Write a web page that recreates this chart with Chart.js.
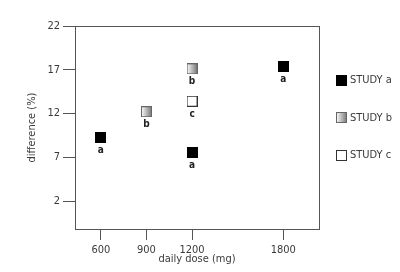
<!DOCTYPE html>
<html>
<head>
<meta charset="utf-8">
<script src="https://cdn.jsdelivr.net/npm/chart.js@4"></script>
<style>
html, body { margin: 0; padding: 0; background: #fff; }
#wrap { width: 400px; height: 272px; }
</style>
</head>
<body>
<div id="wrap"><canvas id="chart"></canvas></div>
<script>
const doseTicks = [600, 900, 1200, 1800];
const diffTicks = [2, 7, 12, 17, 22];

const studyADose = [600, 1200, 1800];
const studyAValue = [9.3, 7.5, 17.4];
const studyBDose = [900, 1200];
const studyBValue = [12.2, 17.1];
const studyCDose = [1200];
const studyCValue = [13.4];

const seriesNames = ['STUDY a', 'STUDY b', 'STUDY c'];
const pointTags = ['a', 'b', 'c'];

const FONT = "'Liberation Sans Narrow', 'DejaVu Sans Condensed', 'Liberation Sans', sans-serif";
Chart.defaults.font.family = FONT;
Chart.defaults.font.size = 11;
Chart.defaults.color = '#3a3a3a';

// marker images
function makeMarker(kind) {
    const c = document.createElement('canvas');
    c.width = 11; c.height = 11;
    const g = c.getContext('2d');
    if (kind === 'a') {
        g.fillStyle = '#000';
        g.fillRect(0, 0, 11, 11);
    } else if (kind === 'b') {
        const grad = g.createLinearGradient(1, 0, 10, 0);
        grad.addColorStop(0, '#f4f4f4');
        grad.addColorStop(1, '#808080');
        g.fillStyle = grad;
        g.fillRect(1, 1, 9, 9);
        g.strokeStyle = '#666';
        g.strokeRect(0.5, 0.5, 10, 10);
    } else {
        g.fillStyle = '#fff';
        g.fillRect(1, 1, 9, 9);
        g.strokeStyle = '#333';
        g.strokeRect(0.5, 0.5, 10, 10);
    }
    return c;
}
const markers = [makeMarker('a'), makeMarker('b'), makeMarker('c')];

function toPoints(xs, ys) {
    return xs.map((x, i) => ({ x: x, y: ys[i] }));
}

const extras = {
    id: 'extras',
    afterDatasetsDraw(chart) {
        const ctx = chart.ctx;
        const a = chart.chartArea;
        ctx.save();
        ctx.strokeStyle = '#555';
        ctx.lineWidth = 1;
        ctx.strokeRect(Math.round(a.left) + 0.5, Math.round(a.top) + 0.5,
            Math.round(a.right - a.left), Math.round(a.bottom - a.top));

        // letters under points
        ctx.font = 'bold 10px ' + FONT;
        ctx.fillStyle = '#222';
        ctx.textAlign = 'center';
        ctx.textBaseline = 'middle';
        chart.data.datasets.forEach((ds, i) => {
            chart.getDatasetMeta(i).data.forEach(pt => {
                ctx.fillText(pointTags[i], pt.x, pt.y + 13);
            });
        });

        // legend
        ctx.font = '11px ' + FONT;
        ctx.fillStyle = '#3a3a3a';
        ctx.textAlign = 'left';
        seriesNames.forEach((name, i) => {
            const y = 80 + i * 37.5;
            ctx.drawImage(markers[i], 336, Math.round(y - 5.5));
            ctx.fillText(name, 350, y + 0.5);
        });
        ctx.restore();
    }
};

new Chart(document.getElementById('chart'), {
    type: 'scatter',
    data: {
        datasets: [
            { label: seriesNames[0], data: toPoints(studyADose, studyAValue), pointStyle: markers[0] },
            { label: seriesNames[1], data: toPoints(studyBDose, studyBValue), pointStyle: markers[1] },
            { label: seriesNames[2], data: toPoints(studyCDose, studyCValue), pointStyle: markers[2] }
        ]
    },
    options: {
        responsive: true,
        maintainAspectRatio: false,
        animation: false,
        layout: { padding: { top: 26, right: 81, left: 0, bottom: 0 } },
        plugins: {
            legend: { display: false },
            tooltip: { enabled: false }
        },
        scales: {
            x: {
                type: 'linear',
                min: 430,
                max: 2035,
                afterBuildTicks: s => { s.ticks = doseTicks.map(v => ({ value: v })); },
                afterFit: s => { s.height = 43; },
                grid: { drawOnChartArea: false, drawTicks: true, tickLength: 11, color: '#555' },
                border: { display: false },
                ticks: { padding: 4, font: { size: 11 }, callback: v => String(v) },
                title: { display: true, text: 'daily dose (mg)', font: { size: 11 }, padding: { top: 0, bottom: 6 } }
            },
            y: {
                type: 'linear',
                min: -1.2,
                max: 22,
                afterBuildTicks: s => { s.ticks = diffTicks.map(v => ({ value: v })); },
                afterFit: s => { s.width = 75; },
                grid: { drawOnChartArea: false, drawTicks: true, tickLength: 12, color: '#555' },
                border: { display: false },
                ticks: { padding: 3, font: { size: 11 }, callback: v => String(v) },
                title: { display: true, text: 'difference (%)', font: { size: 11 }, padding: { top: 26, bottom: 0 } }
            }
        }
    },
    plugins: [extras]
});
</script>
</body>
</html>
